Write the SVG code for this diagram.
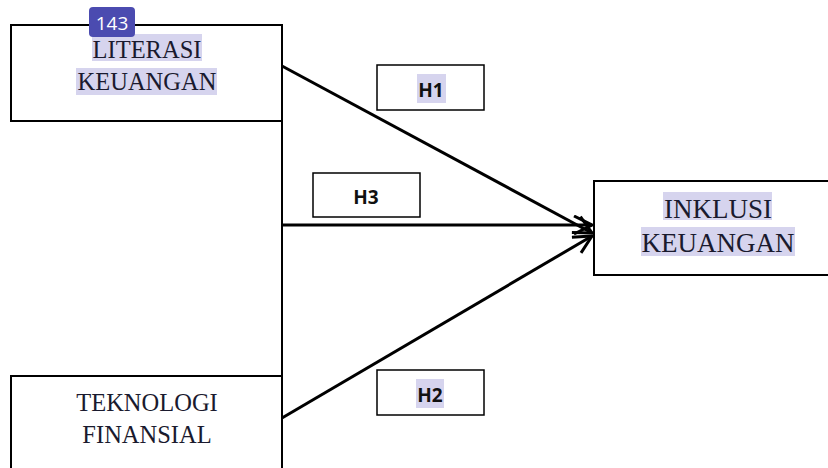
<svg xmlns="http://www.w3.org/2000/svg" width="828" height="468" viewBox="0 0 828 468">
<style>
.box{fill:#fff;stroke:#000;stroke-width:2}
.hbox{fill:#fff;stroke:#000;stroke-width:1.5}
.t{font-family:"Liberation Serif","Times New Roman",serif;font-size:24.5px;fill:#1a1a2e;text-anchor:middle}
.t2{font-size:27px}
.h{font-family:"Open Sans","Liberation Sans",sans-serif;font-weight:bold;font-size:19px;fill:#111;text-anchor:middle}
.hl{fill:#d6d4ee}
.con{stroke:#000;stroke-width:3;fill:none}
</style>
<defs>
<marker id="arr" viewBox="0 0 14 14" refX="13" refY="7" markerWidth="7" markerHeight="7" markerUnits="strokeWidth" orient="auto">
<path d="M1 1 L13 7 L1 13" fill="none" stroke="#000" stroke-width="2"/>
</marker>
</defs>
<rect width="828" height="468" fill="#fff"/>
<g id="literasi">
<rect class="box" x="11" y="25" width="271" height="96"/>
<rect class="hl" x="92" y="34" width="110" height="27"/>
<rect class="hl" x="76" y="68" width="141" height="27"/>
<text class="t" x="147" y="58">LITERASI</text>
<text class="t" x="147" y="90">KEUANGAN</text>
</g>
<g id="teknologi">
<rect class="box" x="11" y="376" width="271" height="100"/>
<text class="t" x="147" y="411">TEKNOLOGI</text>
<text class="t" x="147" y="443">FINANSIAL</text>
</g>
<g id="inklusi">
<rect class="box" x="594" y="181" width="240" height="94"/>
<rect class="hl" x="663" y="192" width="109" height="28"/>
<rect class="hl" x="641" y="227" width="154" height="29"/>
<text class="t t2" x="718" y="218">INKLUSI</text>
<text class="t t2" x="718" y="252">KEUANGAN</text>
</g>
<g id="connectors">
<line x1="282" y1="121" x2="282" y2="468" stroke="#000" stroke-width="2"/>
<line class="con" x1="282" y1="66" x2="592" y2="233" marker-end="url(#arr)"/>
<line class="con" x1="282" y1="225" x2="592" y2="225" marker-end="url(#arr)"/>
<line class="con" x1="282" y1="418" x2="592" y2="236" marker-end="url(#arr)"/>
</g>
<g id="h1">
<rect class="hbox" x="377" y="65" width="107" height="45"/>
<rect class="hl" x="417" y="74" width="29" height="29"/>
<text class="h" x="431" y="97">H1</text>
</g>
<g id="h3">
<rect class="hbox" x="313" y="173" width="107" height="44"/>
<text class="h" x="366" y="204">H3</text>
</g>
<g id="h2">
<rect class="hbox" x="377" y="370" width="107" height="45"/>
<rect class="hl" x="416" y="379" width="28" height="29"/>
<text class="h" x="430" y="402">H2</text>
</g>
<g id="badge">
<rect x="89" y="7" width="46" height="30" rx="4" fill="#4b4bb0"/>
<text x="112" y="30" font-family="Open Sans, Liberation Sans, sans-serif" font-size="19" fill="#fff" text-anchor="middle">143</text>
</g>
</svg>
